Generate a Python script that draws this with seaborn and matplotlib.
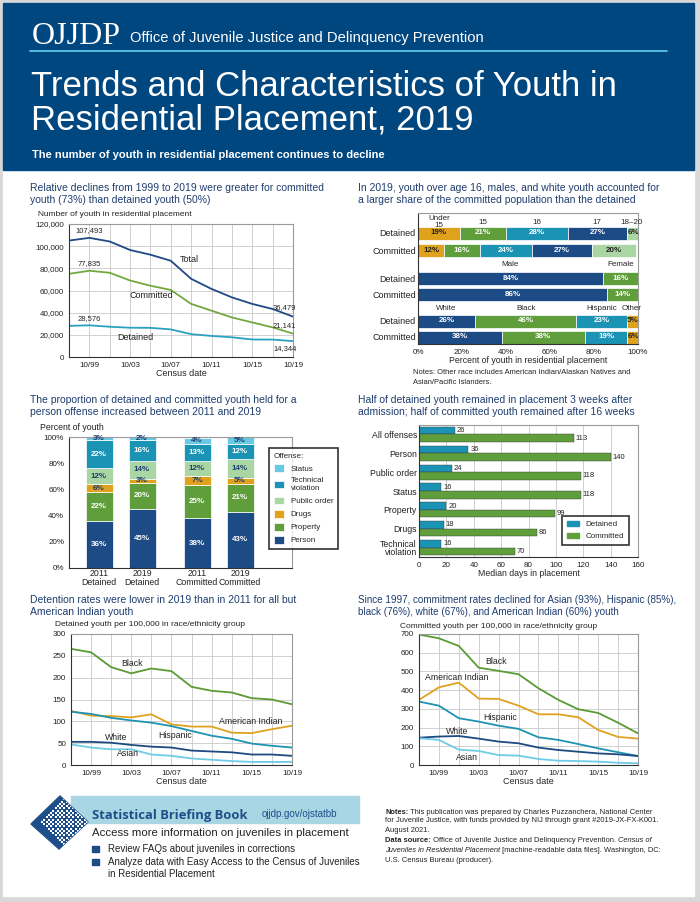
import numpy as np
import pandas as pd
import seaborn as sns
import matplotlib.pyplot as plt
from matplotlib import font_manager
from matplotlib.patches import Rectangle, Polygon

W, H = 700, 902

# ---------------- data ----------------
census = ['10/97', '10/99', '10/01', '10/03', '10/06', '10/07',
          '10/10', '10/11', '10/13', '10/15', '10/17', '10/19']
shown_ticks = ['10/99', '10/03', '10/07', '10/11', '10/15', '10/19']

total = [105055, 107493, 104219, 96531, 92300, 86814, 70500, 61423, 53800, 47900, 43300, 36479]
committed = [75000, 77835, 76000, 69000, 64300, 60500, 47900, 41800, 35700, 31200, 26700, 21141]
detained = [28100, 28576, 27300, 26400, 26300, 24900, 20600, 19000, 17800, 15800, 15700, 14344]

age_groups = ['Under\n15', '15', '16', '17', '18–20']
age_detained = [19, 21, 28, 27, 6]
age_committed = [12, 16, 24, 27, 20]
sex_groups = ['Male', 'Female']
sex_detained = [84, 16]
sex_committed = [86, 14]
race_groups = ['White', 'Black', 'Hispanic', 'Other']
race_detained = [26, 46, 23, 5]
race_committed = [38, 38, 19, 6]

offense_bars = ['2011\nDetained', '2019\nDetained', '2011\nCommitted', '2019\nCommitted']
offense_names = ['Person', 'Property', 'Drugs', 'Public order', 'Technical\nviolation', 'Status']
off_person = [36, 45, 38, 43]
off_property = [22, 20, 25, 21]
off_drugs = [6, 3, 7, 5]
off_public = [12, 14, 12, 14]
off_technical = [22, 16, 13, 12]
off_status = [3, 2, 4, 5]

stay_offenses = ['All offenses', 'Person', 'Public order', 'Status', 'Property', 'Drugs', 'Technical\nviolation']
stay_detained = [26, 36, 24, 16, 20, 18, 16]
stay_committed = [113, 140, 118, 118, 99, 86, 70]

race_names = ['Black', 'American Indian', 'Hispanic', 'White', 'Asian']
det_black = [266, 258, 224, 210, 221, 215, 179, 170, 166, 153, 150, 139]
det_amind = [124, 113, 112, 109, 116, 93, 88, 88, 74, 73, 82, 90]
det_hispanic = [122, 117, 108, 102, 97, 89, 78, 67, 60, 49, 44, 40]
det_white = [53, 53, 51, 46, 42, 40, 33, 31, 29, 24, 24, 21]
det_asian = [47, 40, 36, 36, 24, 21, 15, 12, 9, 7, 7, 7]
com_black = [697, 677, 636, 520, 503, 485, 410, 348, 298, 278, 226, 169]
com_amind = [348, 415, 440, 355, 353, 317, 271, 271, 255, 187, 150, 141]
com_hispanic = [339, 317, 250, 232, 210, 193, 148, 134, 112, 89, 68, 48]
com_white = [146, 152, 155, 141, 125, 116, 93, 80, 71, 62, 57, 48]
com_asian = [143, 134, 82, 75, 53, 50, 32, 23, 21, 18, 12, 9]

# ---------------- style ----------------
NAVY = '#1d4b85'
GREEN = '#5f9e3a'
TEAL = '#1b93b4'
GOLD = '#e0a21d'
LGREEN = '#a9d6a2'
LCYAN = '#68c9e4'
HEAD = '#1e3d6f'
DARK = '#222222'

sns.set_style('white')
names = {f.name for f in font_manager.fontManager.ttflist}
NARROW = 'Liberation Sans Narrow' if 'Liberation Sans Narrow' in names else 'Liberation Sans'
plt.rcParams['font.family'] = ['Liberation Sans', 'DejaVu Sans']

fig = plt.figure(figsize=(7, 9.02), dpi=100)
fig.patch.set_facecolor('#d8d8d8')
bg = fig.add_axes([0, 0, 1, 1], zorder=-5)
bg.set_xlim(0, W)
bg.set_ylim(H, 0)
bg.axis('off')


def box(l, t, r, b):
    return fig.add_axes([l / W, 1 - b / H, (r - l) / W, (b - t) / H])


def txt(x, y, s, size=7, ax=None, **kw):
    # x, y are page pixels from the top-left corner
    kw.setdefault('va', 'center')
    kw.setdefault('color', DARK)
    target = bg if ax is None else ax
    return target.text(x, y, s, fontsize=size, transform=bg.transData, **kw)


def style(ax):
    for s in ['top', 'right']:
        ax.spines[s].set_color('#9a9a9a')
    for s in ['left', 'bottom']:
        ax.spines[s].set_color('#333333')
    for s in ax.spines.values():
        s.set_linewidth(0.8)
    ax.tick_params(length=2, width=0.6, pad=1.5, labelsize=5.8, colors=DARK)
    ax.set_xlabel('')
    ax.set_ylabel('')


# page + header
bg.add_patch(Rectangle((3, 3), 691, 893, color='white'))
bg.add_patch(Rectangle((3, 3), 691, 167, color='#00467f'))
bg.plot([30, 667], [51, 51], color='#5bc3e3', lw=1.3)
txt(32, 36, 'OJJDP', size=23, family='Liberation Serif', color='white')
txt(130, 38, 'Office of Juvenile Justice and Delinquency Prevention', size=10.6, family=NARROW, color='white')
txt(31, 86, 'Trends and Characteristics of Youth in', size=25, color='white')
txt(31, 120, 'Residential Placement, 2019', size=25, color='white')
txt(32, 155, 'The number of youth in residential placement continues to decline', size=8,
    weight='bold', color='white')

# section titles
heads = [
    (30, 188, 'Relative declines from 1999 to 2019 were greater for committed'),
    (30, 200, 'youth (73%) than detained youth (50%)'),
    (358, 188, 'In 2019, youth over age 16, males, and white youth accounted for'),
    (358, 200, 'a larger share of the committed population than the detained'),
    (30, 400, 'The proportion of detained and committed youth held for a'),
    (30, 412, 'person offense increased between 2011 and 2019'),
    (358, 400, 'Half of detained youth remained in placement 3 weeks after'),
    (358, 412, 'admission; half of committed youth remained after 16 weeks'),
    (30, 600, 'Detention rates were lower in 2019 than in 2011 for all but'),
    (30, 612, 'American Indian youth'),
]
for x, y, s in heads:
    txt(x, y, s, size=7.5, color=HEAD)
txt(358, 600, 'Since 1997, commitment rates declined for Asian (93%), Hispanic (85%),', size=7.1, color=HEAD)
txt(358, 612, 'black (76%), white (67%), and American Indian (60%) youth', size=7.1, color=HEAD)


def line_panel(ax, series, palette, ymax, ystep, yfmt):
    rows = []
    for name, vals in series.items():
        for i, v in enumerate(vals):
            rows.append({'pos': i, 'value': v, 'group': name})
    df = pd.DataFrame(rows)
    sns.lineplot(data=df, x='pos', y='value', hue='group', palette=palette,
                 legend=False, ax=ax, linewidth=1.3)
    ax.set_xlim(0, len(census) - 1)
    ax.set_ylim(0, ymax)
    ax.set_xticks(range(len(census)))
    ax.set_xticklabels([c if c in shown_ticks else '' for c in census])
    ax.set_yticks(np.arange(0, ymax + 1, ystep))
    ax.set_yticklabels([yfmt(v) for v in np.arange(0, ymax + 1, ystep)])
    ax.grid(True, color='#c9c9c9', lw=0.6)
    style(ax)
    ax.set_xlabel('Census date', fontsize=6.5, labelpad=0)


# ---- panel 1: counts ----
ax1 = box(69, 224, 293, 357)
line_panel(ax1, {'Total': total, 'Committed': committed, 'Detained': detained},
           {'Total': '#1f4a85', 'Committed': '#72a93e', 'Detained': '#2aa1c0'},
           120000, 20000, lambda v: f'{v:,.0f}')
for vals in [total, committed, detained]:
    ax1.annotate(f'{vals[1]:,}', (1, vals[1]), xytext=(0, 2.5), textcoords='offset points',
                 ha='center', va='bottom', fontsize=5.5)
ax1.annotate(f'{total[-1]:,}', (11, total[-1]), xytext=(-6, 4), textcoords='offset points',
             ha='center', va='bottom', fontsize=5.5)
ax1.annotate(f'{committed[-1]:,}', (11, committed[-1]), xytext=(-6, 3), textcoords='offset points',
             ha='center', va='bottom', fontsize=5.5)
ax1.annotate(f'{detained[-1]:,}', (11, detained[-1]), xytext=(-6, -3), textcoords='offset points',
             ha='center', va='top', fontsize=5.5)
txt(38, 215, 'Number of youth in residential placement', size=6)
txt(180, 260, 'Total', size=6.5, ax=ax1)
txt(129, 296, 'Committed', size=6.5, ax=ax1)
txt(117, 337, 'Detained', size=6.5, ax=ax1)

# ---- panel 2: demographics ----
ax2 = box(418, 213, 638, 344)
rows_y = [233, 250, 278, 294, 321, 337]
age_colors = [GOLD, GREEN, TEAL, NAVY, LGREEN]
sex_colors = [NAVY, GREEN]
race_colors = [NAVY, GREEN, TEAL, GOLD]
blocks = [(age_detained, age_colors), (age_committed, age_colors),
          (sex_detained, sex_colors), (sex_committed, sex_colors),
          (race_detained, race_colors), (race_committed, race_colors)]
for y, (vals, cols) in zip(rows_y, blocks):
    left = 0
    for v, c in zip(vals, cols):
        ax2.barh(y, v, left=left, height=13, color=c, edgecolor='white', lw=0.5)
        tc = DARK if c in (GOLD, LGREEN) else 'white'
        ax2.text(left + v / 2, y, f'{v}%', ha='center', va='center', fontsize=5.8,
                 weight='bold', color=tc, clip_on=True)
        left += v
for labels, vals, ly in [(age_groups, age_detained, 222), (sex_groups, sex_detained, 265),
                         (race_groups, race_detained, 308)]:
    centers = np.cumsum(vals) - np.array(vals) / 2
    for lab, cx in zip(labels, centers):
        ax2.text(min(cx, 97), ly, lab, ha='center', va='center', fontsize=5.8,
                 linespacing=0.85, clip_on=False)
ax2.set_ylim(344, 213)
ax2.set_xlim(0, 100)
ax2.set_yticks(rows_y)
ax2.set_yticklabels(['Detained', 'Committed'] * 3)
ax2.set_xticks(range(0, 101, 20))
ax2.set_xticklabels([f'{v}%' for v in range(0, 101, 20)])
style(ax2)
ax2.tick_params(axis='y', length=0, labelsize=6.5)
ax2.set_xlabel('Percent of youth in residential placement', fontsize=6.3, labelpad=0)
txt(413, 373, 'Notes: Other race includes American Indian/Alaskan Natives and', size=5.4)
txt(413, 382, 'Asian/Pacific Islanders.', size=5.4)

# ---- panel 3: offense profile ----
ax3 = box(69, 437, 292, 568)
bar_x = [99, 142, 197, 240]
off_series = [off_person, off_property, off_drugs, off_public, off_technical, off_status]
off_colors = [NAVY, GREEN, GOLD, LGREEN, TEAL, LCYAN]
bottom = np.zeros(len(bar_x))
handles = []
for name, vals, c in zip(offense_names, off_series, off_colors):
    bars = ax3.bar(bar_x, vals, bottom=bottom, width=27, color=c, edgecolor='white', lw=0.5,
                   label=name)
    handles.append(bars)
    tc = HEAD if c in (GOLD, LGREEN, LCYAN) else 'white'
    for bx, b, v in zip(bar_x, bottom, vals):
        ax3.text(bx, min(b + v / 2, 99), f'{v}%', ha='center', va='center', fontsize=5.8,
                 weight='bold', color=tc)
    bottom += np.array(vals)
ax3.set_xlim(69, 292)
ax3.set_ylim(0, 100)
ax3.set_xticks(bar_x)
ax3.set_xticklabels(offense_bars, linespacing=0.9)
ax3.set_yticks(range(0, 101, 20))
ax3.set_yticklabels([f'{v}%' for v in range(0, 101, 20)])
style(ax3)
ax3.tick_params(axis='x', length=0, labelsize=6.3, pad=1)
txt(40, 427, 'Percent of youth', size=6.3)
leg3 = fig.legend(handles[::-1], offense_names[::-1], loc='upper left',
                  bbox_to_anchor=(265 / W, 1 - 444 / H), frameon=True, fancybox=False,
                  edgecolor='black', fontsize=5.8, title='Offense:', title_fontsize=5.8,
                  alignment='left', handlelength=1.3, handleheight=1.1, labelspacing=0.55,
                  borderpad=0.6)
leg3.get_frame().set_linewidth(1.2)

# ---- panel 4: median days ----
ax4 = box(419, 425, 638, 557)
df4 = pd.DataFrame({'offense': stay_offenses * 2,
                    'status': ['Detained'] * len(stay_offenses) + ['Committed'] * len(stay_offenses),
                    'days': stay_detained + stay_committed})
sns.barplot(data=df4, y='offense', x='days', hue='status', orient='h', ax=ax4,
            palette={'Detained': TEAL, 'Committed': GREEN}, saturation=1, width=0.8,
            legend=False, edgecolor='#3a3a3a', linewidth=0.3)
for cont in ax4.containers:
    ax4.bar_label(cont, fontsize=5.5, padding=1.5)
ax4.set_xlim(0, 160)
ax4.set_xticks(range(0, 161, 20))
ax4.grid(True, axis='x', color='#c9c9c9', lw=0.6)
ax4.set_axisbelow(True)
style(ax4)
ax4.tick_params(axis='y', length=0, labelsize=6.3)
ax4.set_yticklabels(stay_offenses, linespacing=0.85)
ax4.set_xlabel('Median days in placement', fontsize=6.3, labelpad=0)
leg4 = fig.legend([Rectangle((0, 0), 1, 1, color=TEAL), Rectangle((0, 0), 1, 1, color=GREEN)],
                  ['Detained', 'Committed'], loc='lower right',
                  bbox_to_anchor=(633 / W, 1 - 549 / H), frameon=True, fancybox=False,
                  edgecolor='black', fontsize=5.8, handlelength=1.5, borderpad=0.6)
leg4.get_frame().set_linewidth(1.2)

# ---- panels 5 & 6: rates by race ----
race_palette = {'Black': '#5a9b35', 'American Indian': '#dfa21f', 'Hispanic': '#1f93b2',
                'White': '#1d4a80', 'Asian': '#6fcbe6'}
ax5 = box(71, 634, 292, 765)
line_panel(ax5, dict(zip(race_names, [det_black, det_amind, det_hispanic, det_white, det_asian])),
           race_palette, 300, 50, lambda v: f'{v:.0f}')
txt(55, 625, 'Detained youth per 100,000 in race/ethnicity group', size=6)
for x, y, s in [(121, 663, 'Black'), (219, 722, 'American Indian'), (158, 736, 'Hispanic'),
                (105, 737, 'White'), (117, 754, 'Asian')]:
    txt(x, y, s, size=6.3, ax=ax5)

ax6 = box(419, 634, 638, 765)
line_panel(ax6, dict(zip(race_names, [com_black, com_amind, com_hispanic, com_white, com_asian])),
           race_palette, 700, 100, lambda v: f'{v:.0f}')
txt(400, 626, 'Committed youth per 100,000 in race/ethnicity group', size=6)
for x, y, s in [(485, 662, 'Black'), (425, 677, 'American Indian'), (483, 717, 'Hispanic'),
                (446, 731, 'White'), (456, 757, 'Asian')]:
    txt(x, y, s, size=6.3, ax=ax6)

# ---------------- footer ----------------
bg.add_patch(Rectangle((71, 796), 288, 27, color='#a9d6e3'))
diamond = Polygon([(60, 796), (88, 822), (59, 849), (31, 824)], closed=True, color='#1f4f8a')
bg.add_patch(diamond)
gu, gv = np.meshgrid(np.arange(-20, 21, 3.2), np.arange(-20, 21, 3.2))
dx = 60 + (gu - gv) * 0.7
dy = 823 + (gu + gv) * 0.7
keep = (gu > -14) & (gv < 12)
dots = bg.scatter(dx[keep], dy[keep], s=1.2, marker='s', color='white', lw=0)
dots.set_clip_path(diamond)

txt(92, 816, 'Statistical Briefing Book', size=9.4, weight='bold',
    family=['Open Sans', 'Liberation Sans'], color='#1e4f8a')
txt(262, 814, 'ojjdp.gov/ojstatbb', size=7, family=NARROW, color='#1e4f8a')
txt(92, 833, 'Access more information on juveniles in placement', size=8.2)
bg.add_patch(Rectangle((92, 846), 7, 6, color=NAVY))
bg.add_patch(Rectangle((92, 859), 7, 6, color=NAVY))
txt(108, 849, 'Review FAQs about juveniles in corrections', size=7)
txt(108, 862, 'Analyze data with Easy Access to the Census of Juveniles', size=7)
txt(108, 874, 'in Residential Placement', size=7)

renderer = fig.canvas.get_renderer()


def runs(x, y, parts, size=5.4):
    for s, kw in parts:
        t = txt(x, y, s, size=size, **kw)
        x += t.get_window_extent(renderer).width


runs(385, 812, [('Notes:', {'weight': 'bold'}),
                (' This publication was prepared by Charles Puzzanchera, National Center', {})])
runs(385, 821, [('for Juvenile Justice, with funds provided by NIJ through grant #2019-JX-FX-K001.', {})])
runs(385, 831, [('August 2021.', {})])
runs(385, 841, [('Data source:', {'weight': 'bold'}),
                (' Office of Juvenile Justice and Delinquency Prevention. ', {}),
                ('Census of', {'style': 'italic'})])
runs(385, 851, [('Juveniles in Residential Placement', {'style': 'italic'}),
                (' [machine-readable data files]. Washington, DC:', {})])
runs(385, 860, [('U.S. Census Bureau (producer).', {})])

fig.savefig('out.png', dpi=100, facecolor=fig.get_facecolor())
